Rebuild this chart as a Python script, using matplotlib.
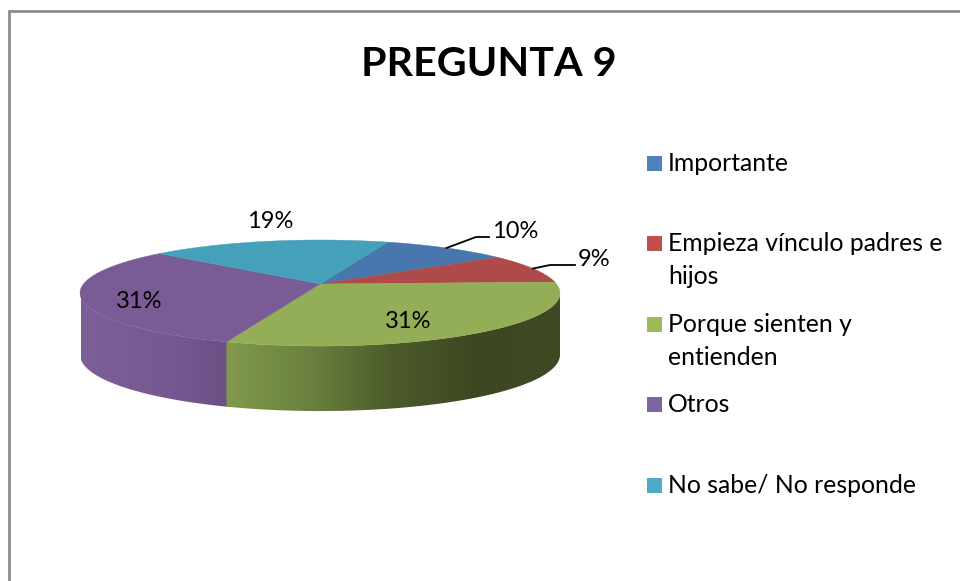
import numpy as np
import matplotlib
matplotlib.use('Agg')
import matplotlib.pyplot as plt
from matplotlib.colors import LinearSegmentedColormap
from matplotlib.patches import Polygon, Rectangle

plt.rcParams['font.family'] = ['Lato', 'DejaVu Sans']

title = "PREGUNTA 9"
categories = ["Importante", "Empieza vínculo padres e\nhijos", "Porque sienten y\nentienden", "Otros", "No sabe/ No responde"]
values = [10, 9, 31, 31, 19]
top_colors = ["#4777AC", "#AE4B4A", "#93AE56", "#795C95", "#45A0B9"]
legend_colors = ["#4F81BD", "#C0504D", "#9BBB59", "#8064A2", "#4BACC6"]

# pie geometry in pixels, with a bit of perspective
cx, cy = 320, 284
rx, ry = 236.5, 51.5
persp = 0.17
start_angle = 70.6


def project(deg):
    t = np.radians(deg)
    u, v = np.cos(t), np.sin(t)
    w = 1 + persp * v
    return cx + rx * u / w, cy - ry * v / w


def depth(deg):
    return 61 - 4 * np.sin(np.radians(deg))


fig = plt.figure(figsize=(9.6, 5.81), dpi=100)
ax = fig.add_axes([0, 0, 1, 1])
ax.set_xlim(0, 960)
ax.set_ylim(581, 0)
ax.axis('off')

# chart frame, only left and top edges are in the crop
ax.plot([9, 9, 960], [581, 11, 11], color='#8c8c8c', lw=2, solid_joinstyle='miter')

# slice edges, going clockwise
edges = start_angle - np.cumsum([0] + values) * 3.6

# side wall, purple runs a little under the green so no seam shows
left_side = 180 + np.degrees(np.arcsin(persp))
right_side = 360 - np.degrees(np.arcsin(persp))
green_front = edges[3] % 360
wall_parts = [
    (left_side, green_front + 1, ["#7B5F96", "#775A92", "#6B5086"], (81, 230), 2),
    (green_front, right_side, ["#80994A", "#6B813F", "#4C5A2B", "#3D4722", "#3F4A24"], (226, 561), 2.1),
]
for a0, a1, cols, (x0, x1), z in wall_parts:
    ang = np.linspace(a0, a1, 120)
    xs, ys = project(ang)
    poly = np.r_[np.c_[xs, ys], np.c_[xs, ys + depth(ang)][::-1]]
    cmap = LinearSegmentedColormap.from_list('wall', cols)
    im = ax.imshow(np.linspace(0, 1, 256)[None, :], cmap=cmap, aspect='auto',
                   extent=[x0, x1, 420, 280], zorder=z)
    im.set_clip_path(Polygon(poly, transform=ax.transData))
ax.set_xlim(0, 960)
ax.set_ylim(581, 0)

# top face
for i, col in enumerate(top_colors):
    ang = np.linspace(edges[i], edges[i + 1], 100)
    xs, ys = project(ang)
    ax.fill(np.r_[cx, xs], np.r_[cy, ys], color=col, lw=0.3, zorder=3)

# value labels
label_pos = [(515, 231), (594, 259), (408, 322), (139, 302), (270, 222)]
for v, (lx, ly) in zip(values, label_pos):
    ax.text(lx, ly, f"{v}%", fontsize=17, ha='center', va='center', color='black', zorder=5)

# leader lines for the two small slices
for i, (bx, by, ex) in zip([0, 1], [(476, 237, 489), (550, 265, 575)]):
    sx, sy = project((edges[i] + edges[i + 1]) / 2)
    ax.plot([sx, bx, ex], [sy, by, by], color='black', lw=1.3, zorder=5)

ax.text(488.5, 65, title, fontsize=29.7, fontweight='bold', ha='center', va='center', color='black')

# legend
legend_top = [156, 236, 317, 397, 478]
for name, col, y in zip(categories, legend_colors, legend_top):
    ax.add_patch(Rectangle((647, y), 15, 15, color=col, lw=0))
    for j, line in enumerate(name.split("\n")):
        ax.text(668, y + 15 + j * 33, line, fontsize=17.8, ha='left', va='baseline', color='black')

fig.savefig('out.png', dpi=100)
